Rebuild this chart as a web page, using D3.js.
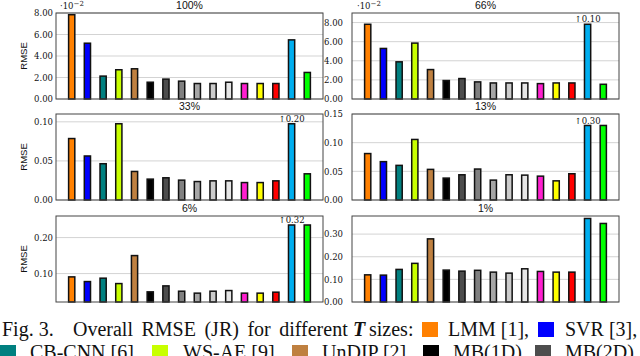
<!DOCTYPE html>
<html><head><meta charset="utf-8">
<script src="https://cdn.jsdelivr.net/npm/d3@7"></script>
<style>
html,body{margin:0;padding:0;background:#fff;}
svg{display:block;}
</style></head>
<body>
<script>
// ---- data ----
const methods = ["LMM","SVR","CB-CNN","WS-AE","UnDIP","MB(1D)","MB(2D)","M8","M9","M10","M11","M12","M13","M14","M15","M16"];
const colors = ["#ff8000","#0000ff","#008080","#c8ff00","#bf8040","#000000","#4d4d4d","#808080","#a6a6a6","#cccccc","#e6e6e6","#ff1fd0","#ffff00","#ff0000","#00aeef","#00ff00"];
const titles = ["100%","66%","33%","13%","6%","1%"];
// values for 100% and 66% are in units of 10^-2
const rmse100 = [7.84,5.19,2.13,2.72,2.81,1.56,1.85,1.66,1.44,1.44,1.56,1.44,1.44,1.44,5.50,2.47];
const rmse66  = [7.82,5.29,3.89,5.85,3.08,1.93,2.14,1.79,1.68,1.68,1.68,1.61,1.68,1.68,10.0,1.54];
const rmse33  = [0.0786,0.0563,0.0464,0.0975,0.0365,0.0267,0.0284,0.0254,0.0236,0.0245,0.0245,0.0223,0.0223,0.0245,0.20,0.0335];
const rmse13  = [0.081,0.0669,0.0604,0.1056,0.0534,0.0382,0.044,0.054,0.0347,0.044,0.0434,0.0416,0.0334,0.0458,0.30,0.130];
const rmse6   = [0.0908,0.0778,0.0872,0.0722,0.150,0.0492,0.0658,0.051,0.0456,0.051,0.0528,0.0456,0.0456,0.0483,0.32,0.235];
const rmse1   = [0.120,0.1187,0.144,0.1707,0.279,0.141,0.1364,0.140,0.132,0.1276,0.1467,0.135,0.132,0.132,0.369,0.347];
const valueSets = [rmse100, rmse66, rmse33, rmse13, rmse6, rmse1];
const domains = [[0,8],[0,9],[0,0.11],[0,0.15],[0.021,0.26],[0,0.38]];
const tickSets = [[0,2,4,6,8],[0,2,4,6,8],[0,0.05,0.10],[0,0.05,0.10,0.15],[0.10,0.20],[0,0.10,0.20,0.30]];
const exponents = [-2,-2,0,0,0,0];

// ---- layout ----
const W = 640, H = 356;
const colX = [56, 352], plotW = 267;
const rowY = [13, 114, 216], plotH = 86;

const svg = d3.select("body").append("svg").attr("width", W).attr("height", H);

valueSets.forEach((vals, i) => {
  const col = i % 2, row = Math.floor(i / 2);
  const g = svg.append("g").attr("transform", `translate(${colX[col]},${rowY[row]})`);
  const x = d3.scalePoint().domain(methods).range([0, plotW]).padding(1);
  const dom = domains[i];
  const y = d3.scaleLinear().domain(dom).range([plotH, 0]);
  const scale = Math.pow(10, exponents[i]);

  // grid
  g.selectAll(".grid").data(tickSets[i]).enter().append("line")
    .attr("x1", 0).attr("x2", plotW)
    .attr("y1", d => y(d)).attr("y2", d => y(d))
    .attr("stroke", "#c8c8c8").attr("stroke-width", 0.8);

  // y axis labels
  const ax = g.append("g").call(d3.axisLeft(y).tickValues(tickSets[i]).tickSize(0).tickPadding(col === 0 ? 3 : 9).tickFormat(d3.format(".2f")));
  ax.select(".domain").remove();
  ax.selectAll("text").attr("font-family", "DejaVu Serif").attr("font-size", 8.5).attr("fill", "#111");

  // bars, clipped ones drawn at the tallest other bar
  const maxOther = d3.max(vals.filter(v => v <= dom[1]));
  const bw = 6.2;
  vals.forEach((v, j) => {
    const clipped = v > dom[1];
    const hv = clipped ? maxOther : v;
    g.append("rect")
      .attr("x", x(methods[j]) - bw / 2)
      .attr("y", y(hv))
      .attr("width", bw)
      .attr("height", y(dom[0]) - y(hv))
      .attr("fill", colors[j])
      .attr("stroke", "#111").attr("stroke-width", 1.5);
    if (clipped) {
      g.append("text")
        .attr("x", x(methods[j])).attr("y", y(hv) - 1.8)
        .attr("text-anchor", "middle")
        .attr("font-family", "DejaVu Serif").attr("font-size", 8.5)
        .attr("fill", "#111")
        .text("\u2191" + d3.format(".2f")(v * scale));
    }
  });

  // frame
  g.append("rect").attr("x", 0).attr("y", 0).attr("width", plotW).attr("height", plotH)
    .attr("fill", "none").attr("stroke", "#444").attr("stroke-width", 1);

  // title
  g.append("text").attr("x", plotW / 2).attr("y", -4).attr("text-anchor", "middle")
    .attr("font-family", "Liberation Sans, Arial, sans-serif").attr("font-size", 10.5).attr("fill", "#111")
    .text(titles[i]);

  // exponent
  if (exponents[i] !== 0) {
    const t = g.append("text").attr("x", col === 0 ? 4 : 5).attr("y", -4)
      .attr("font-family", "DejaVu Serif").attr("font-size", 8.5).attr("fill", "#111");
    t.append("tspan").text("\u00b710");
    t.append("tspan").attr("dy", -3).attr("font-size", 7).text("\u22122");
  }

  // y label
  if (col === 0) {
    svg.append("text")
      .attr("transform", `translate(27,${rowY[row] + plotH / 2}) rotate(-90)`)
      .attr("text-anchor", "middle")
      .attr("font-family", "Liberation Sans, Arial, sans-serif").attr("font-size", 9.5).attr("fill", "#111")
      .text("RMSE");
  }
});

// ---- caption ----
const cap = svg.append("g").attr("font-family", "Liberation Serif, Times New Roman, serif").attr("font-size", 20).attr("fill", "#111");
const line1 = 336, line2 = 359;
function word(x, y, s, extra) {
  const t = cap.append("text").attr("x", x).attr("y", y).text(s);
  if (extra) extra(t);
  return t;
}
function sw(x, y, c) {
  cap.append("rect").attr("x", x).attr("y", y - 14).attr("width", 16).attr("height", 15).attr("fill", c);
}
word(2, line1, "Fig. 3.");
word(73, line1, "Overall RMSE (JR) for different", t => t.style("word-spacing", "3.5px"));
word(353, line1, "T", t => t.attr("font-weight", "bold").attr("font-style", "italic"));
word(369, line1, "sizes:");
sw(422, line1, colors[0]); word(448, line1, "LMM [1],");
sw(538, line1, colors[1]); word(565, line1, "SVR [3],");
sw(0, line2, colors[2]); word(30, line2, "CB-CNN [6]");
sw(152, line2, colors[3]); word(183, line2, "WS-AE [9]");
sw(292, line2, colors[4]); word(322, line2, "UnDIP [2]");
sw(423, line2, colors[5]); word(453, line2, "MB(1D)");
sw(535, line2, colors[6]); word(565, line2, "MB(2D)");
</script>
</body></html>
